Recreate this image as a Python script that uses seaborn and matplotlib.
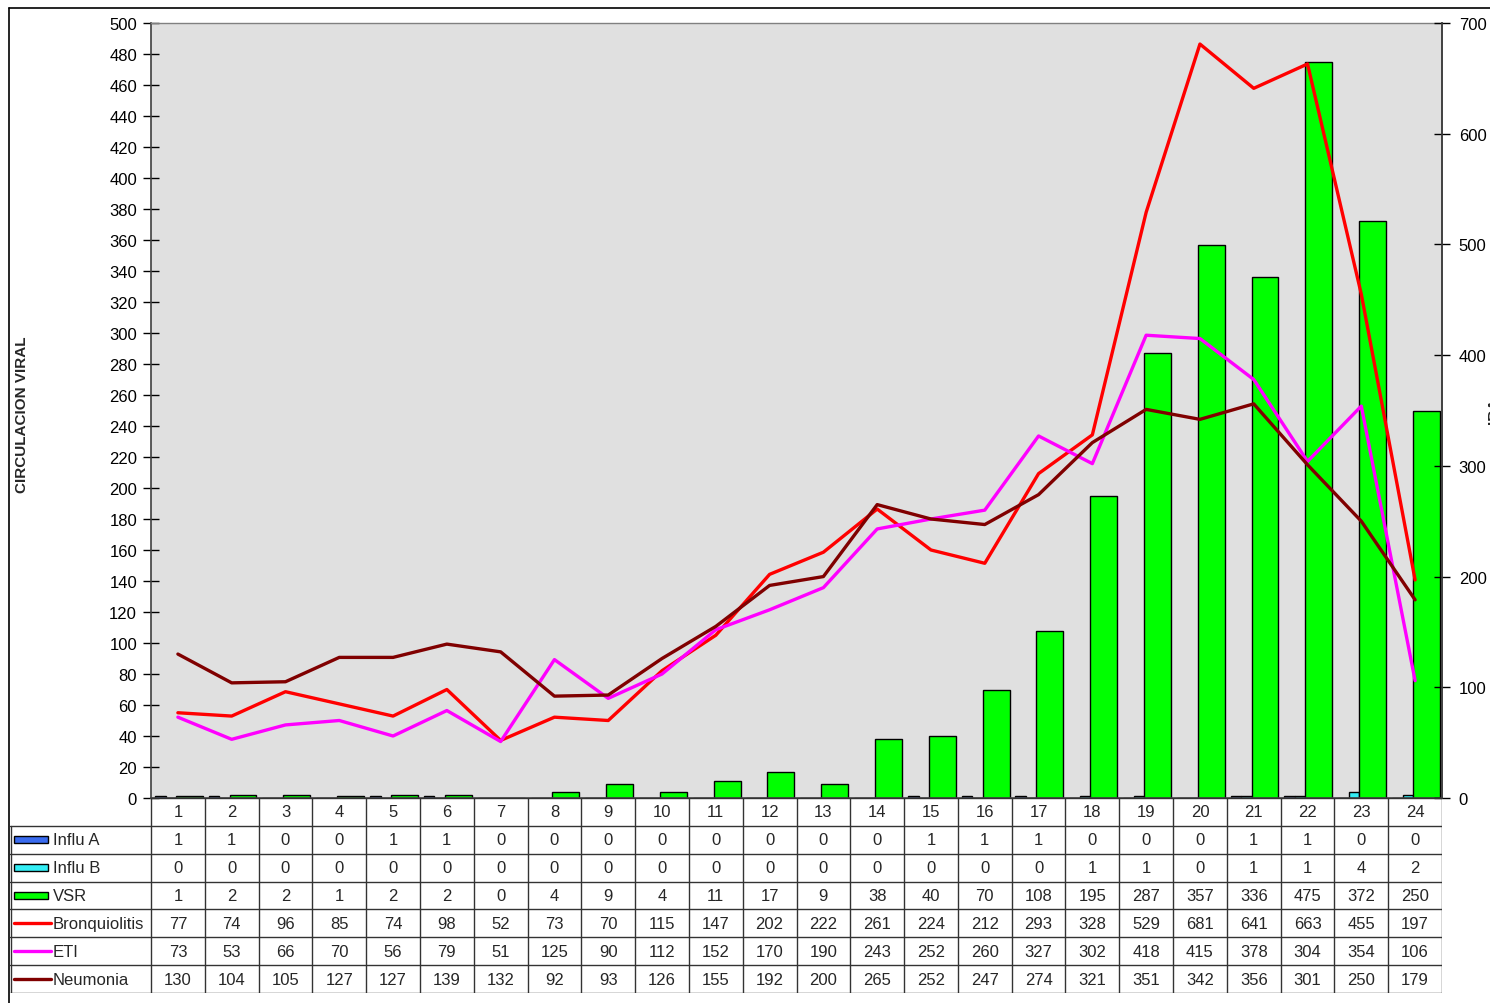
import numpy as np
import pandas as pd
import matplotlib
matplotlib.use("Agg")
import matplotlib.pyplot as plt
import seaborn as sns
from matplotlib.lines import Line2D
from matplotlib.patches import Rectangle

# --- datos por semana epidemiologica ---
semanas = list(range(1, 25))
influ_a = [1, 1, 0, 0, 1, 1, 0, 0, 0, 0, 0, 0, 0, 0, 1, 1, 1, 0, 0, 0, 1, 1, 0, 0]
influ_b = [0, 0, 0, 0, 0, 0, 0, 0, 0, 0, 0, 0, 0, 0, 0, 0, 0, 1, 1, 0, 1, 1, 4, 2]
vsr = [1, 2, 2, 1, 2, 2, 0, 4, 9, 4, 11, 17, 9, 38, 40, 70, 108, 195, 287, 357, 336, 475, 372, 250]
bronquiolitis = [77, 74, 96, 85, 74, 98, 52, 73, 70, 115, 147, 202, 222, 261, 224, 212, 293, 328, 529, 681, 641, 663, 455, 197]
eti = [73, 53, 66, 70, 56, 79, 51, 125, 90, 112, 152, 170, 190, 243, 252, 260, 327, 302, 418, 415, 378, 304, 354, 106]
neumonia = [130, 104, 105, 127, 127, 139, 132, 92, 93, 126, 155, 192, 200, 265, 252, 247, 274, 321, 351, 342, 356, 301, 250, 179]

series_barras = [("Influ A", influ_a, "#3A6BEF"), ("Influ B", influ_b, "#33EEF5"), ("VSR", vsr, "#00FF00")]
series_lineas = [("Bronquiolitis", bronquiolitis, "#FF0000"), ("ETI", eti, "#FF00FF"), ("Neumonia", neumonia, "#800000")]

sns.set_style("white")
plt.rcParams['font.family'] = ['Liberation Sans', 'DejaVu Sans']
plt.rcParams['axes.unicode_minus'] = False

W, H = 1490, 1004
fig = plt.figure(figsize=(W / 100, H / 100), dpi=100)

# area del grafico en pixeles
x0, x1, y0, y1 = 151, 1442, 24, 799
ax = fig.add_axes([x0 / W, 1 - y1 / H, (x1 - x0) / W, (y1 - y0) / H])
ax.set_facecolor("#E0E0E0")

sem = np.array(semanas, dtype=float)
# desplazamiento y ancho de cada barra dentro de la semana
desplaz = {"Influ A": (-0.33, 0.2), "Influ B": (-0.135, 0.19), "VSR": (0.21, 0.5)}
for nombre, valores, color in series_barras:
    dx, ancho = desplaz[nombre]
    sns.barplot(x=sem + dx, y=valores, native_scale=True, width=ancho, color=color,
                edgecolor="black", linewidth=1.0, saturation=1, ax=ax, errorbar=None)

ax.set_xlim(0.5, 24.5)
ax.set_ylim(0, 500)
ax.set_yticks(range(0, 501, 20))
ax.set_xticks([])
ax.set_xlabel("")
ax.set_ylabel("")
ax.tick_params(axis="y", direction="inout", length=12, width=1, labelsize=12, pad=4, colors="black")
for s in ["left", "right", "bottom"]:
    ax.spines[s].set_color("#404040")
    ax.spines[s].set_linewidth(1.2)
ax.spines["top"].set_color("#808080")
ax.spines["top"].set_linewidth(1)

# eje secundario: IRA
ax2 = ax.twinx()
for nombre, valores, color in series_lineas:
    sns.lineplot(x=semanas, y=valores, color=color, linewidth=2.4, ax=ax2)
ax2.set_xlim(0.5, 24.5)
ax2.set_ylim(0, 700)
ax2.set_yticks(range(0, 701, 100))
ax2.set_ylabel("")
ax2.tick_params(axis="y", direction="inout", length=12, width=1, labelsize=12, pad=6, colors="black")
ax2.spines["right"].set_color("#404040")
ax2.spines["right"].set_linewidth(1.2)
for s in ["left", "top", "bottom"]:
    ax2.spines[s].set_visible(False)

fig.text(22 / W, 1 - 415 / H, "CIRCULACION VIRAL", rotation=90, fontsize=11,
         fontweight="bold", ha="center", va="center")
fig.text(1494 / W, 1 - 411 / H, "IRA", rotation=90, fontsize=11,
         fontweight="bold", ha="center", va="center")

# --- tabla de datos ---
tx0, ty1 = 10, 994
tab = fig.add_axes([tx0 / W, 1 - ty1 / H, (x1 - tx0) / W, (ty1 - y1) / H])
unidad = (x1 - x0) / 24
xmin = 0.5 - (x0 - tx0) / unidad
tab.set_xlim(xmin, 24.5)
tab.set_ylim(7, 0)
tab.axis("off")

gris = "#333333"
tab.plot([0.5, 24.5], [0, 0], color=gris, lw=1)
for r in range(1, 8):
    tab.plot([xmin, 24.5], [r, r], color=gris, lw=1)
for k in range(25):
    tab.plot([0.5 + k, 0.5 + k], [0, 7], color=gris, lw=1)
tab.plot([xmin + 0.01, xmin + 0.01], [1, 7], color=gris, lw=1)

for w in semanas:
    tab.text(w, 0.5, str(w), ha="center", va="center", fontsize=12)

filas = series_barras + series_lineas
for r, (nombre, valores, color) in enumerate(filas, start=1):
    yc = r + 0.5
    if nombre in ("Influ A", "Influ B", "VSR"):
        tab.add_patch(Rectangle((xmin + 0.074, yc - 0.13), 0.636, 0.26,
                                facecolor=color, edgecolor="black", lw=1))
    else:
        tab.plot([xmin + 0.074, xmin + 0.76], [yc, yc], color=color, lw=2.4)
    tab.text(xmin + 0.80, yc, nombre, ha="left", va="center", fontsize=12)
    for w, v in zip(semanas, valores):
        tab.text(w, yc, str(v), ha="center", va="center", fontsize=12)

# marco exterior
fig.add_artist(Line2D([9 / W, 1.0], [1 - 9 / H, 1 - 9 / H], color="black", lw=1.2))
fig.add_artist(Line2D([9 / W, 9 / W], [0, 1 - 9 / H], color="black", lw=1.2))

fig.savefig("out.png", dpi=100)
